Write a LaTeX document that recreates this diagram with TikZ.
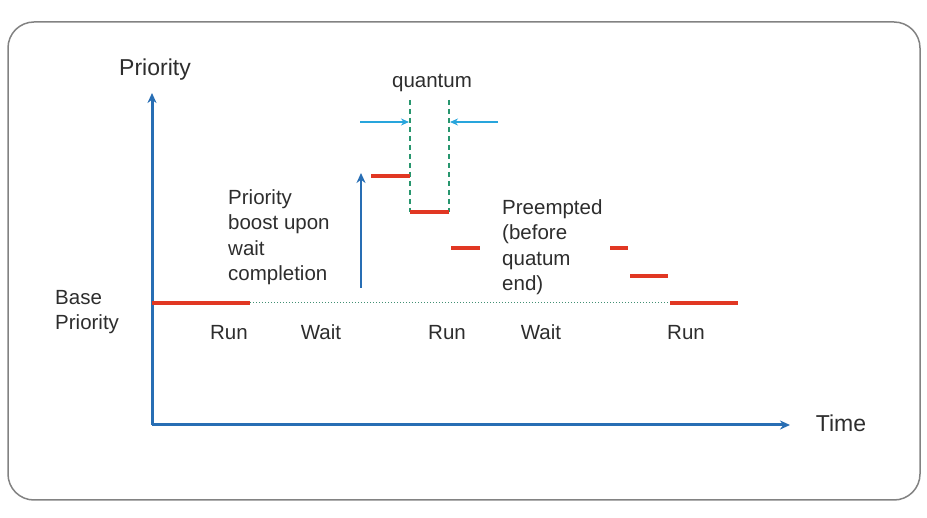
\documentclass[tikz,border=0pt]{standalone}
\usepackage{fontspec}
\setmainfont{Liberation Sans}
\usetikzlibrary{arrows.meta}
\definecolor{axisblue}{RGB}{40,110,180}
\definecolor{runred}{RGB}{225,55,35}
\definecolor{qcyan}{RGB}{40,165,220}
\definecolor{qgreen}{RGB}{40,150,110}
\definecolor{txt}{RGB}{45,45,45}
\definecolor{frame}{RGB}{130,130,130}
\begin{document}
\begin{tikzpicture}[x=1pt,y=-1pt,
  axis/.style={draw=axisblue,line width=3pt,-{Stealth[length=10pt,width=9pt]}},
  runseg/.style={draw=runred,line width=3.8pt},
  lbl/.style={text=txt,font=\fontsize{20.5}{25.5}\selectfont,inner sep=0pt},
  biglbl/.style={text=txt,font=\fontsize{23}{27}\selectfont,inner sep=0pt},
  mlbl/.style={lbl,align=left,anchor=north west},
  phase/.style={lbl,anchor=base},
  qarrow/.style={draw=qcyan,line width=1.3pt,-{Stealth[length=8pt,width=7pt]}},
  qline/.style={draw=qgreen,line width=1.5pt,dash pattern=on 5pt off 4pt}]
\useasboundingbox (0,0) rectangle (927,518);
\draw[frame,line width=1.5pt,rounded corners=26pt] (8,22) rectangle (920,500);
% axes
\coordinate (O) at (152,425);
\coordinate (ytop) at (152,93);
\coordinate (xend) at (790,425);
\draw[axis] (O) -- (ytop);
\draw[axis] (O) -- (xend);
\node[biglbl] (prio) at (155,70) {Priority};
\node[biglbl] (time) at (841,423) {Time};
% base line
\coordinate (b0) at (152,303);
\coordinate (b1) at (250,303);
\coordinate (b2) at (670,303);
\coordinate (b3) at (738,303);
\draw[qgreen!70!gray,line width=1pt,dotted] (b1) -- (b2);
\draw[runseg] (b0) -- (b1);
\draw[runseg] (b2) -- (b3);
% boost arrow
\coordinate (bst0) at (361,288);
\coordinate (bst1) at (361,173);
\draw[draw=axisblue,line width=2.5pt,-{Stealth[length=10pt,width=9pt]}] (bst0) -- (bst1);
% quantum markers
\coordinate (q1t) at (410,100);
\coordinate (q1b) at (410,212);
\coordinate (q2t) at (449,100);
\coordinate (q2b) at (449,212);
\draw[qline] (q1t) -- (q1b);
\draw[qline] (q2t) -- (q2b);
\coordinate (qa0) at (360,122);
\coordinate (qa1) at (409,122);
\coordinate (qb0) at (498,122);
\coordinate (qb1) at (450,122);
\draw[qarrow] (qa0) -- (qa1);
\draw[qarrow] (qb0) -- (qb1);
\node[lbl] (quantum) at (432,83) {quantum};
% red steps
\coordinate (r1a) at (371,176); \coordinate (r1b) at (410,176);
\coordinate (r2a) at (410,212); \coordinate (r2b) at (449,212);
\coordinate (r3a) at (451,248); \coordinate (r3b) at (480,248);
\coordinate (r4a) at (610,248); \coordinate (r4b) at (628,248);
\coordinate (r5a) at (630,276); \coordinate (r5b) at (668,276);
\draw[runseg] (r1a) -- (r1b);
\draw[runseg] (r2a) -- (r2b);
\draw[runseg] (r3a) -- (r3b);
\draw[runseg] (r4a) -- (r4b);
\draw[runseg] (r5a) -- (r5b);
% labels
\node[mlbl] (boost) at (228,189) {Priority\\boost upon\\wait\\completion};
\node[mlbl] (pre) at (502,199) {Preempted\\(before\\quatum\\end)};
\node[mlbl] (base) at (55,290) {Base\\Priority};
\node[phase] (run1) at (229,340) {Run};
\node[phase] (wait1) at (321,340) {Wait};
\node[phase] (run2) at (447,340) {Run};
\node[phase] (wait2) at (541,340) {Wait};
\node[phase] (run3) at (686,340) {Run};
\end{tikzpicture}
\end{document}
